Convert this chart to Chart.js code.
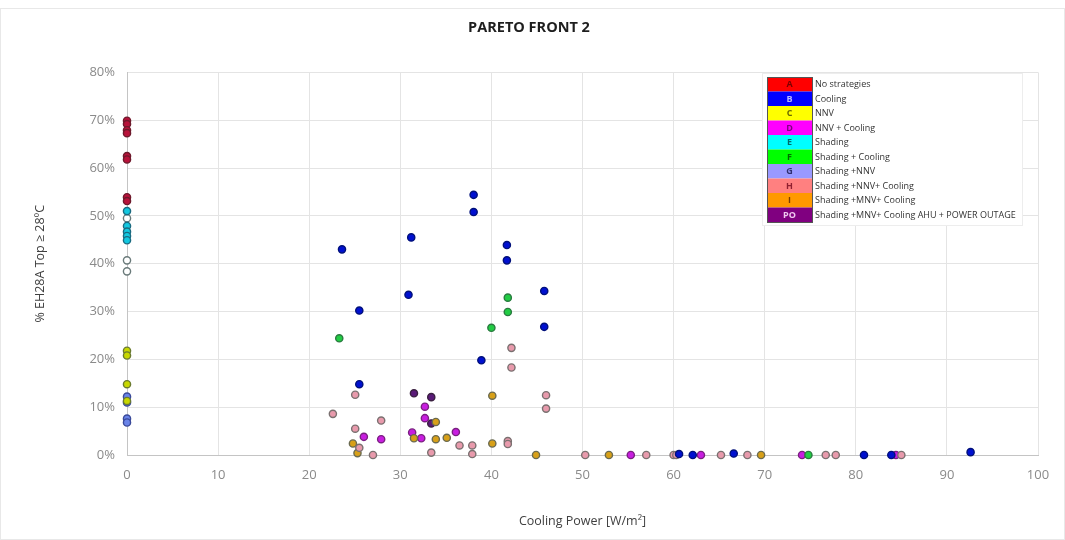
<!DOCTYPE html>
<html>
<head>
<meta charset="utf-8">
<script src="https://cdn.jsdelivr.net/npm/chart.js@4.4.1/dist/chart.umd.min.js"></script>
<style>
  html, body { margin: 0; padding: 0; background: #fff; }
</style>
</head>
<body>
<canvas id="pareto" width="1065" height="540"></canvas>
<script>
// legend categories
const codes = ['A', 'B', 'C', 'D', 'E', 'F', 'G', 'H', 'I', 'PO'];
const labels = ['No strategies', 'Cooling', 'NNV', 'NNV + Cooling', 'Shading', 'Shading + Cooling',
    'Shading +NNV', 'Shading +NNV+ Cooling', 'Shading +MNV+ Cooling', 'Shading +MNV+ Cooling AHU + POWER OUTAGE'];

// series values: cooling power (W/m2) and % hours above 28C
const aX = [0, 0, 0, 0, 0, 0, 0, 0];
const aY = [69.9, 69.2, 67.9, 67.3, 62.5, 61.8, 53.9, 53.1];

const bX = [38.05, 38.05, 31.2, 23.6, 41.7, 41.7, 30.9, 45.8, 25.5, 45.8, 38.9, 25.5, 60.6, 62.1, 66.6, 80.9, 83.9, 92.6];
const bY = [54.4, 50.8, 45.5, 43.0, 43.9, 40.7, 33.5, 34.3, 30.2, 26.8, 19.8, 14.8, 0.2, 0, 0.3, 0, 0, 0.6];

const cX = [0, 0, 0, 0];
const cY = [21.8, 20.8, 14.8, 11.3];

const dX = [32.7, 32.7, 26.0, 27.9, 31.3, 32.3, 36.1, 55.3, 63.0, 74.1, 84.4];
const dY = [10.1, 7.7, 3.8, 3.3, 4.7, 3.5, 4.8, 0, 0, 0, 0];

const eX = [0, 0, 0, 0, 0];
const eY = [51.0, 47.9, 46.7, 45.8, 44.9];

const eOpenX = [0, 0, 0];
const eOpenY = [49.5, 40.7, 38.4];

const fX = [23.3, 41.8, 41.8, 40.0, 74.8];
const fY = [24.4, 32.9, 29.9, 26.6, 0];

const gX = [0, 0, 0, 0];
const gY = [12.2, 11.0, 7.6, 6.8];

const hX = [42.2, 42.2, 25.05, 46.0, 46.0, 22.6, 27.9, 25.05, 36.5, 37.9, 37.9, 33.4, 41.8, 41.8, 25.5, 27.0,
    50.3, 57.0, 60.0, 60.3, 65.2, 68.1, 76.7, 77.8, 85.0];
const hY = [22.4, 18.3, 12.6, 12.5, 9.7, 8.6, 7.2, 5.5, 2.0, 2.0, 0.2, 0.5, 2.9, 2.3, 1.5, 0,
    0, 0, 0, 0, 0, 0, 0, 0, 0];

const iX = [40.1, 33.9, 31.5, 33.9, 35.1, 40.1, 44.9, 24.8, 25.3, 52.9, 69.6];
const iY = [12.4, 6.9, 3.5, 3.3, 3.6, 2.4, 0, 2.4, 0.4, 0, 0];

const poX = [31.5, 33.4, 33.4];
const poY = [12.9, 12.1, 6.6];

const xTicks = [0, 10, 20, 30, 40, 50, 60, 70, 80, 90, 100];
const yTicks = [0, 10, 20, 30, 40, 50, 60, 70, 80];

// legend swatches and marker colours
const swatch = ['#ff0000', '#0000ff', '#ffff00', '#ff00ff', '#00ffff', '#00ff00', '#9999ff', '#ff8080', '#ff9900', '#800080'];
const letterColor = ['#7a0000', '#b8b8ff', '#6a6a00', '#800080', '#006a6a', '#006a00', '#303070', '#902030', '#7a3a00', '#f0c8f0'];

function pts(xs, ys) {
    return xs.map((x, i) => ({ x: x, y: ys[i] }));
}

function series(xs, ys, fill, border) {
    return {
        data: pts(xs, ys),
        backgroundColor: fill,
        borderColor: border,
        borderWidth: 1.4,
        pointRadius: 3.6,
        pointHoverRadius: 3.6,
        clip: false
    };
}

const legendBox = {
    id: 'legendBox',
    afterDraw(chart) {
        const ctx = chart.ctx;
        const x0 = 767, y0 = 77, cellW = 45, rowH = 14.5;
        ctx.save();
        ctx.fillStyle = '#fff';
        ctx.fillRect(x0 - 4, y0 - 3, 260, rowH * codes.length + 6);
        ctx.strokeStyle = '#ededed';
        ctx.lineWidth = 1;
        ctx.strokeRect(x0 - 4.5, y0 - 3.5, 260, rowH * codes.length + 7);
        codes.forEach((code, i) => {
            const y = y0 + i * rowH;
            ctx.fillStyle = swatch[i];
            ctx.fillRect(x0, y, cellW, rowH);
            ctx.fillStyle = letterColor[i];
            ctx.font = 'bold 9px "Open Sans", sans-serif';
            ctx.textAlign = 'center';
            ctx.textBaseline = 'middle';
            ctx.fillText(code, x0 + cellW / 2, y + rowH / 2 + 0.5);
            ctx.fillStyle = '#333';
            ctx.font = '9px "Open Sans", sans-serif';
            ctx.textAlign = 'left';
            ctx.fillText(labels[i], x0 + cellW + 3, y + rowH / 2 + 0.5);
        });
        ctx.strokeStyle = '#555';
        ctx.strokeRect(x0 + 0.5, y0 + 0.5, cellW, rowH * codes.length);
        ctx.restore();
    }
};

const frame = {
    id: 'frame',
    beforeDraw(chart) {
        const ctx = chart.ctx;
        ctx.save();
        ctx.fillStyle = '#fff';
        ctx.fillRect(0, 0, chart.width, chart.height);
        ctx.strokeStyle = '#e8e8e8';
        ctx.strokeRect(0.5, 8.5, chart.width - 1, chart.height - 9);
        ctx.restore();
    }
};

new Chart(document.getElementById('pareto'), {
    type: 'scatter',
    data: {
        datasets: [
            series(aX, aY, '#b8123a', '#6e1a2c'),
            series(eX, eY, '#12c8e0', '#1a6a80'),
            series(eOpenX, eOpenY, '#ffffff', '#6a7a7a'),
            series(cX, cY, '#c8d800', '#6a7a30'),
            series(gX, gY, '#6a84e8', '#3a4a9a'),
            series(bX, bY, '#0010d0', '#00107a'),
            series(fX, fY, '#22cc44', '#2a7a40'),
            series(hX, hY, '#e89aac', '#7a7070'),
            series(iX, iY, '#d8a018', '#6a6a50'),
            series(dX, dY, '#c81ee0', '#7a2080'),
            series(poX, poY, '#5a1a78', '#3a2040')
        ]
    },
    options: {
        responsive: false,
        animation: false,
        layout: { padding: { left: 20, right: 27, top: 0, bottom: 0 } },
        plugins: {
            legend: { display: false },
            tooltip: { enabled: false },
            title: {
                display: true,
                text: 'PARETO FRONT 2',
                color: '#1e1e1e',
                font: { family: '"Open Sans", sans-serif', size: 14.5, weight: 'bold' },
                padding: { top: 19, bottom: 36 }
            }
        },
        scales: {
            x: {
                type: 'linear',
                min: 0,
                max: 100,
                afterBuildTicks: s => { s.ticks = xTicks.map(v => ({ value: v })); },
                afterFit: s => { s.height = 85; },
                grid: { color: '#e4e4e4', drawTicks: false },
                border: { color: '#c4c4c4' },
                ticks: {
                    padding: 12,
                    color: '#8a8a8a',
                    font: { family: '"Open Sans", sans-serif', size: 13 }
                },
                title: {
                    display: true,
                    text: 'Cooling Power [W/m²]',
                    color: '#404040',
                    font: { family: '"Open Sans", sans-serif', size: 12.5 },
                    padding: { top: 0, bottom: 11 }
                }
            },
            y: {
                min: 0,
                max: 80,
                afterBuildTicks: s => { s.ticks = yTicks.map(v => ({ value: v })); },
                afterFit: s => { s.width = 107; },
                grid: { color: '#e4e4e4', drawTicks: false },
                border: { color: '#c4c4c4' },
                ticks: {
                    padding: 12,
                    color: '#8a8a8a',
                    font: { family: '"Open Sans", sans-serif', size: 13 },
                    callback: v => v + '%'
                },
                title: {
                    display: true,
                    text: '% EH28A Top ≥ 28ºC',
                    color: '#404040',
                    font: { family: '"Open Sans", sans-serif', size: 12.5 },
                    padding: { top: 13, bottom: 0 }
                }
            }
        }
    },
    plugins: [frame, legendBox]
});
</script>
</body>
</html>
